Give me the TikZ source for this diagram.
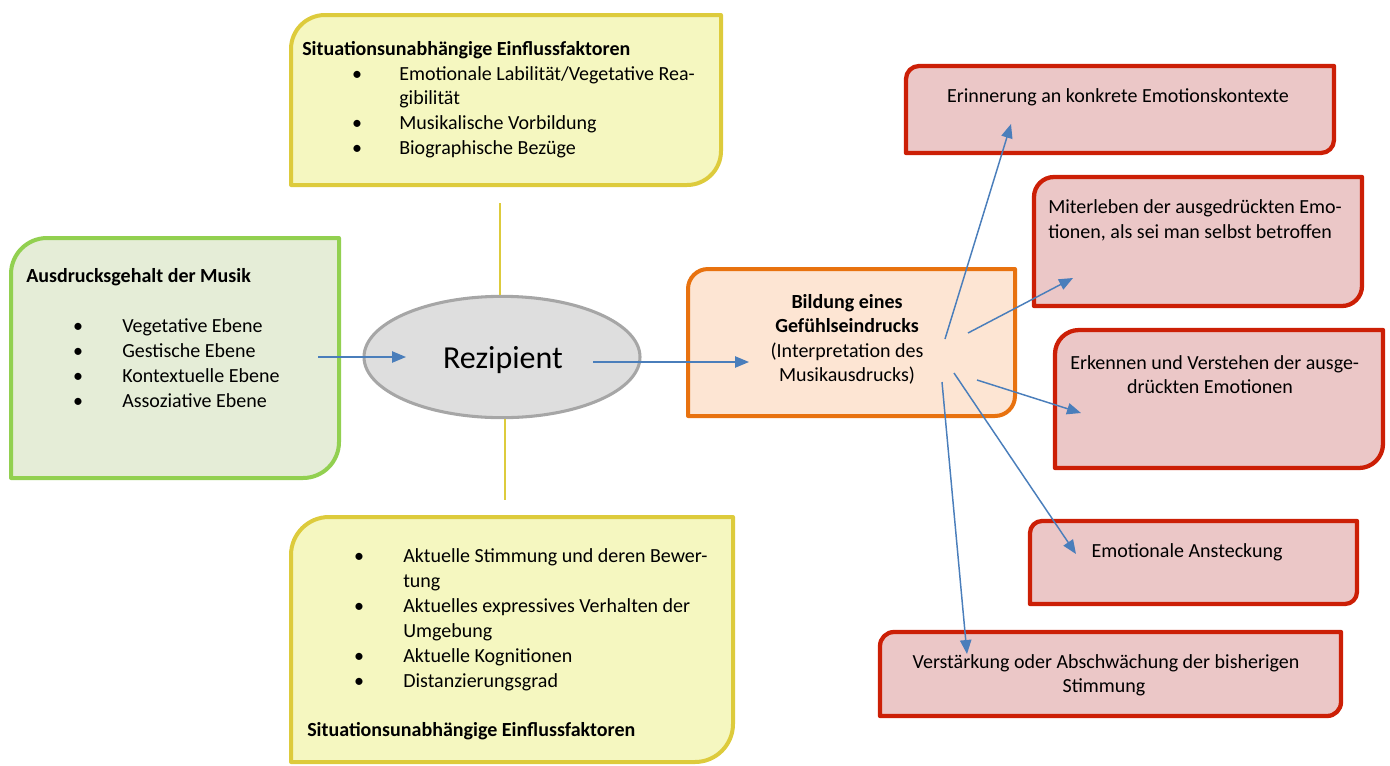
\documentclass[tikz,border=0pt]{standalone}
\usepackage{fontspec}
\setmainfont{Carlito}
\usetikzlibrary{shapes.geometric,arrows.meta}
\definecolor{ylBorder}{HTML}{DDCB3C}
\definecolor{ylFill}{HTML}{F5F7C0}
\definecolor{grBorder}{HTML}{92D050}
\definecolor{grFill}{HTML}{E5EDD7}
\definecolor{orBorder}{HTML}{E8720F}
\definecolor{orFill}{HTML}{FDE5D3}
\definecolor{rdBorder}{HTML}{CC1F06}
\definecolor{rdFill}{HTML}{EBC7C7}
\definecolor{elBorder}{HTML}{A6A6A6}
\definecolor{elFill}{HTML}{DEDEDE}
\definecolor{arBlue}{HTML}{4A7EBB}
% #1 style, #2 x1, #3 y1, #4 x2, #5 y2, #6 corner radius (top-left and bottom-right)
\newcommand\diagbox[6]{%
  \draw[#1] ({#2},{#3+#6}) .. controls ({#2},{#3+0.448*#6}) and ({#2+0.448*#6},{#3}) .. ({#2+#6},{#3})
    -- ({#4},{#3}) -- ({#4},{#5-#6})
    .. controls ({#4},{#5-0.448*#6}) and ({#4-0.448*#6},{#5}) .. ({#4-#6},{#5})
    -- ({#2},{#5}) -- cycle;}
\tikzset{
  boxline/.style={line width=3pt, line join=round},
  ylbox/.style={boxline, draw=ylBorder, fill=ylFill},
  grbox/.style={boxline, draw=grBorder, fill=grFill},
  orbox/.style={boxline, draw=orBorder, fill=orFill},
  rdbox/.style={boxline, line width=3.2pt, draw=rdBorder, fill=rdFill},
  txt/.style={inner sep=0pt, font=\fontsize{15}{18}\selectfont},
  lt/.style={txt, anchor=base west},
  ct/.style={txt, anchor=base},
  bul/.style={txt, anchor=base},
  arrowline/.style={draw=arBlue, line width=1.1pt, -{Triangle[length=10.5pt,width=8.5pt]}},
  yline/.style={draw=ylBorder, line width=1.1pt},
}
\begin{document}
\begin{tikzpicture}[x=0.75pt,y=-0.75pt]
\useasboundingbox (0,0) rectangle (1390,765);

% boxes
\diagbox{ylbox}{291}{15}{721}{185}{34}
\diagbox{grbox}{11}{238}{339}{478}{36}
\diagbox{ylbox}{291}{517}{733}{762}{38}
\diagbox{orbox}{688}{269}{1015}{416}{20}
\diagbox{rdbox}{906}{66}{1334}{153}{13}
\diagbox{rdbox}{1034}{177}{1362}{306}{20}
\diagbox{rdbox}{1055}{330}{1383}{468}{24}
\diagbox{rdbox}{1030}{521}{1357}{604}{12}
\diagbox{rdbox}{880}{632}{1341}{716}{14}

% ellipse
\node[ellipse, draw=elBorder, fill=elFill, line width=2.3pt, minimum width=207pt, minimum height=91pt, inner sep=0pt] (rez) at (502,357) {};
\node[txt, anchor=base, font=\fontsize{24}{28}\selectfont] (reztxt) at (503,368) {Rezipient};

% yellow connectors
\coordinate (ytop) at (500,203);
\coordinate (ybot) at (505,500);
\draw[yline] (ytop) -- (ytop |- rez.north);
\draw[yline] (ybot |- rez.south) -- (ybot);

% top yellow text
\node[lt] (t0) at (302,55) {\textbf{Situationsunabhängige Einflussfaktoren}};
\node[bul] (tb1) at (357,80) {•};
\node[lt] (t1) at (399,80) {Emotionale Labilität/Vegetative Rea-};
\node[lt] (t1b) at (399,104.5) {gibilität};
\node[bul] (tb2) at (357,129.5) {•};
\node[lt] (t2) at (399,129.5) {Musikalische Vorbildung};
\node[bul] (tb3) at (357,154) {•};
\node[lt] (t3) at (399,154) {Biographische Bezüge};

% green text
\node[lt] (g0) at (26,282) {\textbf{Ausdrucksgehalt der Musik}};
\node[bul] (gb1) at (78,332) {•};
\node[lt] (g1) at (122,332) {Vegetative Ebene};
\node[bul] (gb2) at (78,357) {•};
\node[lt] (g2) at (122,357) {Gestische Ebene};
\node[bul] (gb3) at (78,382) {•};
\node[lt] (g3) at (122,382) {Kontextuelle Ebene};
\node[bul] (gb4) at (78,407) {•};
\node[lt] (g4) at (122,407) {Assoziative Ebene};

% bottom yellow text
\node[bul] (bb1) at (359,562) {•};
\node[lt] (b1) at (403,562) {Aktuelle Stimmung und deren Bewer-};
\node[lt] (b1b) at (403,587) {tung};
\node[bul] (bb2) at (359,612) {•};
\node[lt] (b2) at (403,612) {Aktuelles expressives Verhalten der};
\node[lt] (b2b) at (403,637) {Umgebung};
\node[bul] (bb3) at (359,662) {•};
\node[lt] (b3) at (403,662) {Aktuelle Kognitionen};
\node[bul] (bb4) at (359,687) {•};
\node[lt] (b4) at (403,687) {Distanzierungsgrad};
\node[lt] (b0) at (307,736) {\textbf{Situationsunabhängige Einflussfaktoren}};

% orange text
\node[ct] (o1) at (847,308) {\textbf{Bildung eines}};
\node[ct] (o2) at (847,332) {\textbf{Gefühlseindrucks}};
\node[ct] (o3) at (847,357) {(Interpretation des};
\node[ct] (o4) at (847,381) {Musikausdrucks)};

% red texts
\node[ct] (r1) at (1118,102) {Erinnerung an konkrete Emotionskontexte};
\node[lt] (r2a) at (1048,213) {Miterleben der ausgedrückten Emo-};
\node[lt] (r2b) at (1048,238) {tionen, als sei man selbst betroffen};
\node[lt] (r3a) at (1070,369) {Erkennen und Verstehen der ausge-};
\node[ct] (r3b) at (1210,393) {drückten Emotionen};
\node[ct] (r4) at (1187,557) {Emotionale Ansteckung};
\node[ct] (r5a) at (1106,668) {Verstärkung oder Abschwächung der bisherigen};
\node[ct] (r5b) at (1104,692) {Stimmung};

% arrow coordinates
\coordinate (a0s) at (318,357);
\coordinate (a0e) at (406,357);
\coordinate (a1s) at (593,362);
\coordinate (a1e) at (749,362);
\coordinate (e1s) at (945,339);
\coordinate (e1e) at (1011,124);
\coordinate (e2s) at (968,333);
\coordinate (e2e) at (1073,278);
\coordinate (e3s) at (977,380);
\coordinate (e3e) at (1081,413);
\coordinate (e4s) at (954,373);
\coordinate (e4e) at (1076,554);
\coordinate (e5s) at (942,382);
\coordinate (e5e) at (967,654);

\draw[arrowline] (a0s) -- (a0e);
\draw[arrowline] (a1s) -- (a1e);
\draw[arrowline] (e1s) -- (e1e);
\draw[arrowline] (e2s) -- (e2e);
\draw[arrowline] (e3s) -- (e3e);
\draw[arrowline] (e4s) -- (e4e);
\draw[arrowline] (e5s) -- (e5e);
\end{tikzpicture}
\end{document}
